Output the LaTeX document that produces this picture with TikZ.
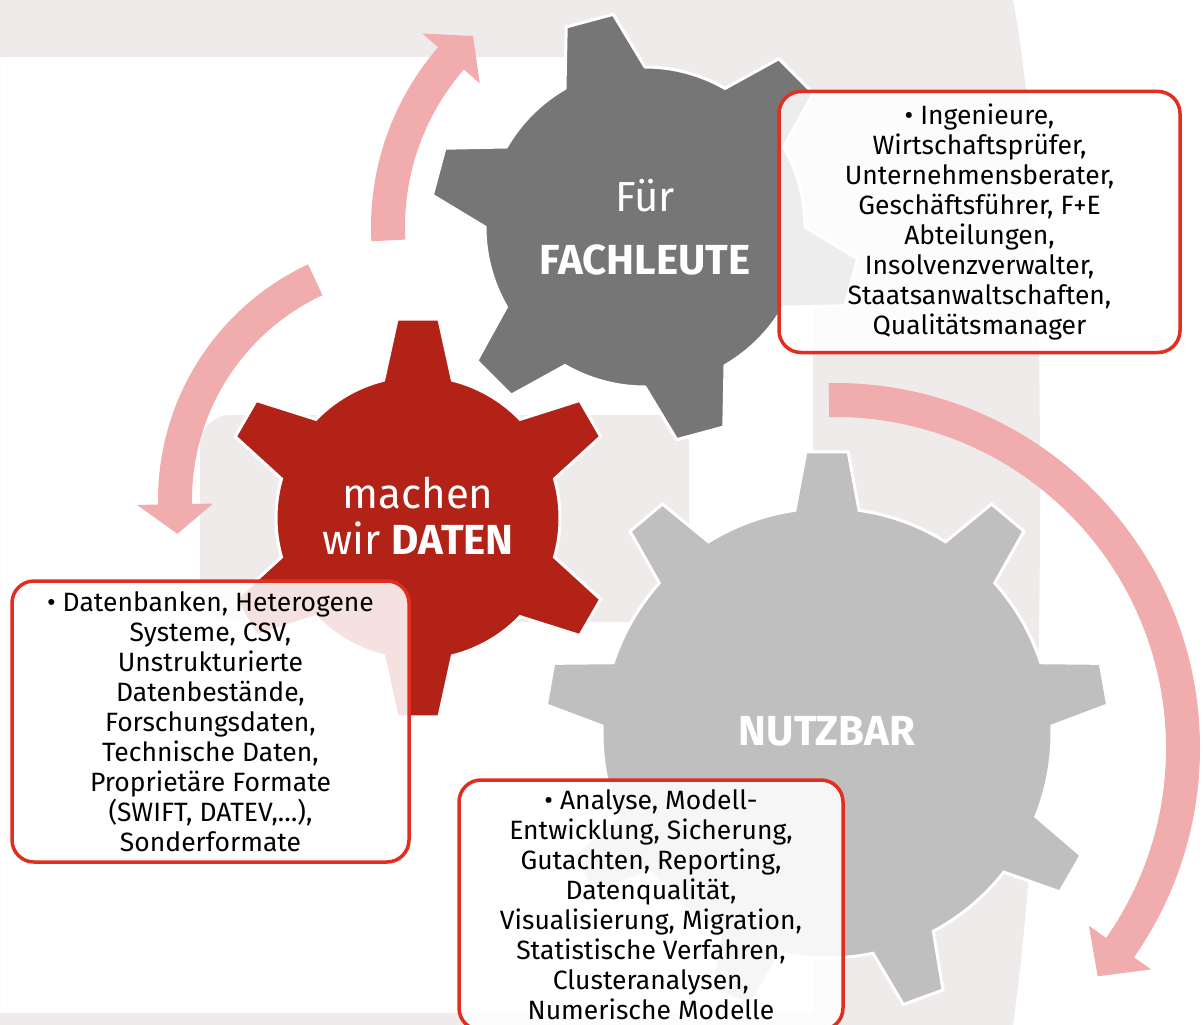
\documentclass[tikz,border=0pt]{standalone}
\usepackage{fontspec}
\setmainfont{Fira Sans}
\usetikzlibrary{calc}

\definecolor{bggrey}{RGB}{239,235,234}
\definecolor{gearred}{RGB}{178,34,22}
\definecolor{geardark}{RGB}{118,118,118}
\definecolor{gearlight}{RGB}{191,191,191}
\definecolor{arrowpink}{RGB}{241,173,173}
\definecolor{boxred}{RGB}{226,46,32}

% gear: style, center, teeth, body radius, tip radius, first tooth, base half-angle, tip half-angle
\newcommand{\drawgear}[8]{%
  \pgfmathsetmacro{\gearstep}{360/#3}
  \filldraw[#1] ($(#2)+(#6-#7:#4)$)
    \foreach \k [evaluate=\k as \ga using #6+(\k-1)*\gearstep] in {1,...,#3}{
      -- ($(#2)+(\ga-#8:#5)$) -- ($(#2)+(\ga+#8:#5)$) -- ($(#2)+(\ga+#7:#4)$)
      arc[start angle=\ga+#7, end angle=\ga+\gearstep-#7, radius=#4]
    } -- cycle;
}

% circular arrow: center, radius, start angle, head angle, tip angle
\newcommand{\circarrow}[5]{%
  \fill[arrowpink] ($(#1)+(#3:#2+17)$) arc[start angle=#3, end angle=#4, radius=#2+17]
    -- ($(#1)+(#4:#2+38)$) -- ($(#1)+(#5:#2)$) -- ($(#1)+(#4:#2-38)$)
    -- ($(#1)+(#4:#2-17)$) arc[start angle=#4, end angle=#3, radius=#2-17] -- cycle;
}

\tikzset{
  gearlabel/.style={text=white, inner sep=0pt, font=\fontsize{42}{50}\selectfont},
  gearbold/.style={gearlabel, font=\fontsize{42}{50}\selectfont\bfseries},
  infobox/.style={draw=boxred, line width=3.5pt, rounded corners=22pt, fill=white,
    fill opacity=0.87, text opacity=1, align=center, inner sep=0pt,
    font=\fontsize{26.5}{30}\selectfont},
}

\begin{document}
\begin{tikzpicture}[x=1pt, y=1pt]
  \useasboundingbox (0,0) rectangle (1203,-1025);

  % background frame and square
  \fill[bggrey, even odd rule] (0,0) -- (1013,0)
      .. controls (1035,-120) and (1040,-260) .. (1040,-500)
      .. controls (1040,-760) and (1030,-900) .. (1013,-1025) -- (0,-1025) -- cycle
    (0,-57) -- (563,-57) arc[start angle=90, end angle=0, radius=250]
      -- (813,-1013) -- (0,-1013) -- cycle;
  \fill[bggrey, rounded corners=30pt] (200,-415) rectangle (689,-622);

  % arrows
  \circarrow{645,-227}{257}{183}{139}{132}
  \circarrow{418,-500}{243}{115}{181}{188}
  \circarrow{835,-748}{348}{91}{-35}{-41}

  % gears
  \drawgear{fill=geardark, draw=white, line width=3pt}{645,-227}{6}{160}{215}{45}{15}{6.5}
  \drawgear{fill=gearred, draw=white, line width=3pt}{418,-518}{6}{142}{200}{90}{14}{6}
  \drawgear{fill=gearlight, draw=white, line width=3pt}{827,-733}{9}{225}{282}{90}{8.2}{4.3}

  % gear texts
  \node[gearlabel, anchor=base] (fuer) at (645,-211) {Für};
  \node[gearbold, anchor=base] (fachleute) at (645,-274) {FACHLEUTE};
  \node[gearlabel, anchor=base] (machen) at (418,-508) {machen};
  \node[gearlabel, anchor=base] (daten) at (418,-554) {wir \textbf{DATEN}};
  \node[gearbold, anchor=base] (nutzbar) at (827,-745) {NUTZBAR};

  % boxes
  \node[infobox, minimum width=401pt, minimum height=261pt] (boxfach) at (979.5,-222)
    {• Ingenieure,\\Wirtschaftsprüfer,\\Unternehmensberater,\\Geschäftsführer, F+E\\
     Abteilungen,\\Insolvenzverwalter,\\Staatsanwaltschaften,\\Qualitätsmanager};
  \node[infobox, minimum width=397pt, minimum height=281pt] (boxdaten) at (210.5,-721.5)
    {• Datenbanken, Heterogene\\Systeme, CSV,\\Unstrukturierte\\Datenbestände,\\
     Forschungsdaten,\\Technische Daten,\\Proprietäre Formate\\(SWIFT, DATEV,…),\\Sonderformate};
  \node[infobox, minimum width=384pt, minimum height=250pt] (boxnutz) at (651,-905)
    {• Analyse, Modell-\\Entwicklung, Sicherung,\\Gutachten, Reporting,\\Datenqualität,\\
     Visualisierung, Migration,\\Statistische Verfahren,\\Clusteranalysen,\\Numerische Modelle};
\end{tikzpicture}
\end{document}
